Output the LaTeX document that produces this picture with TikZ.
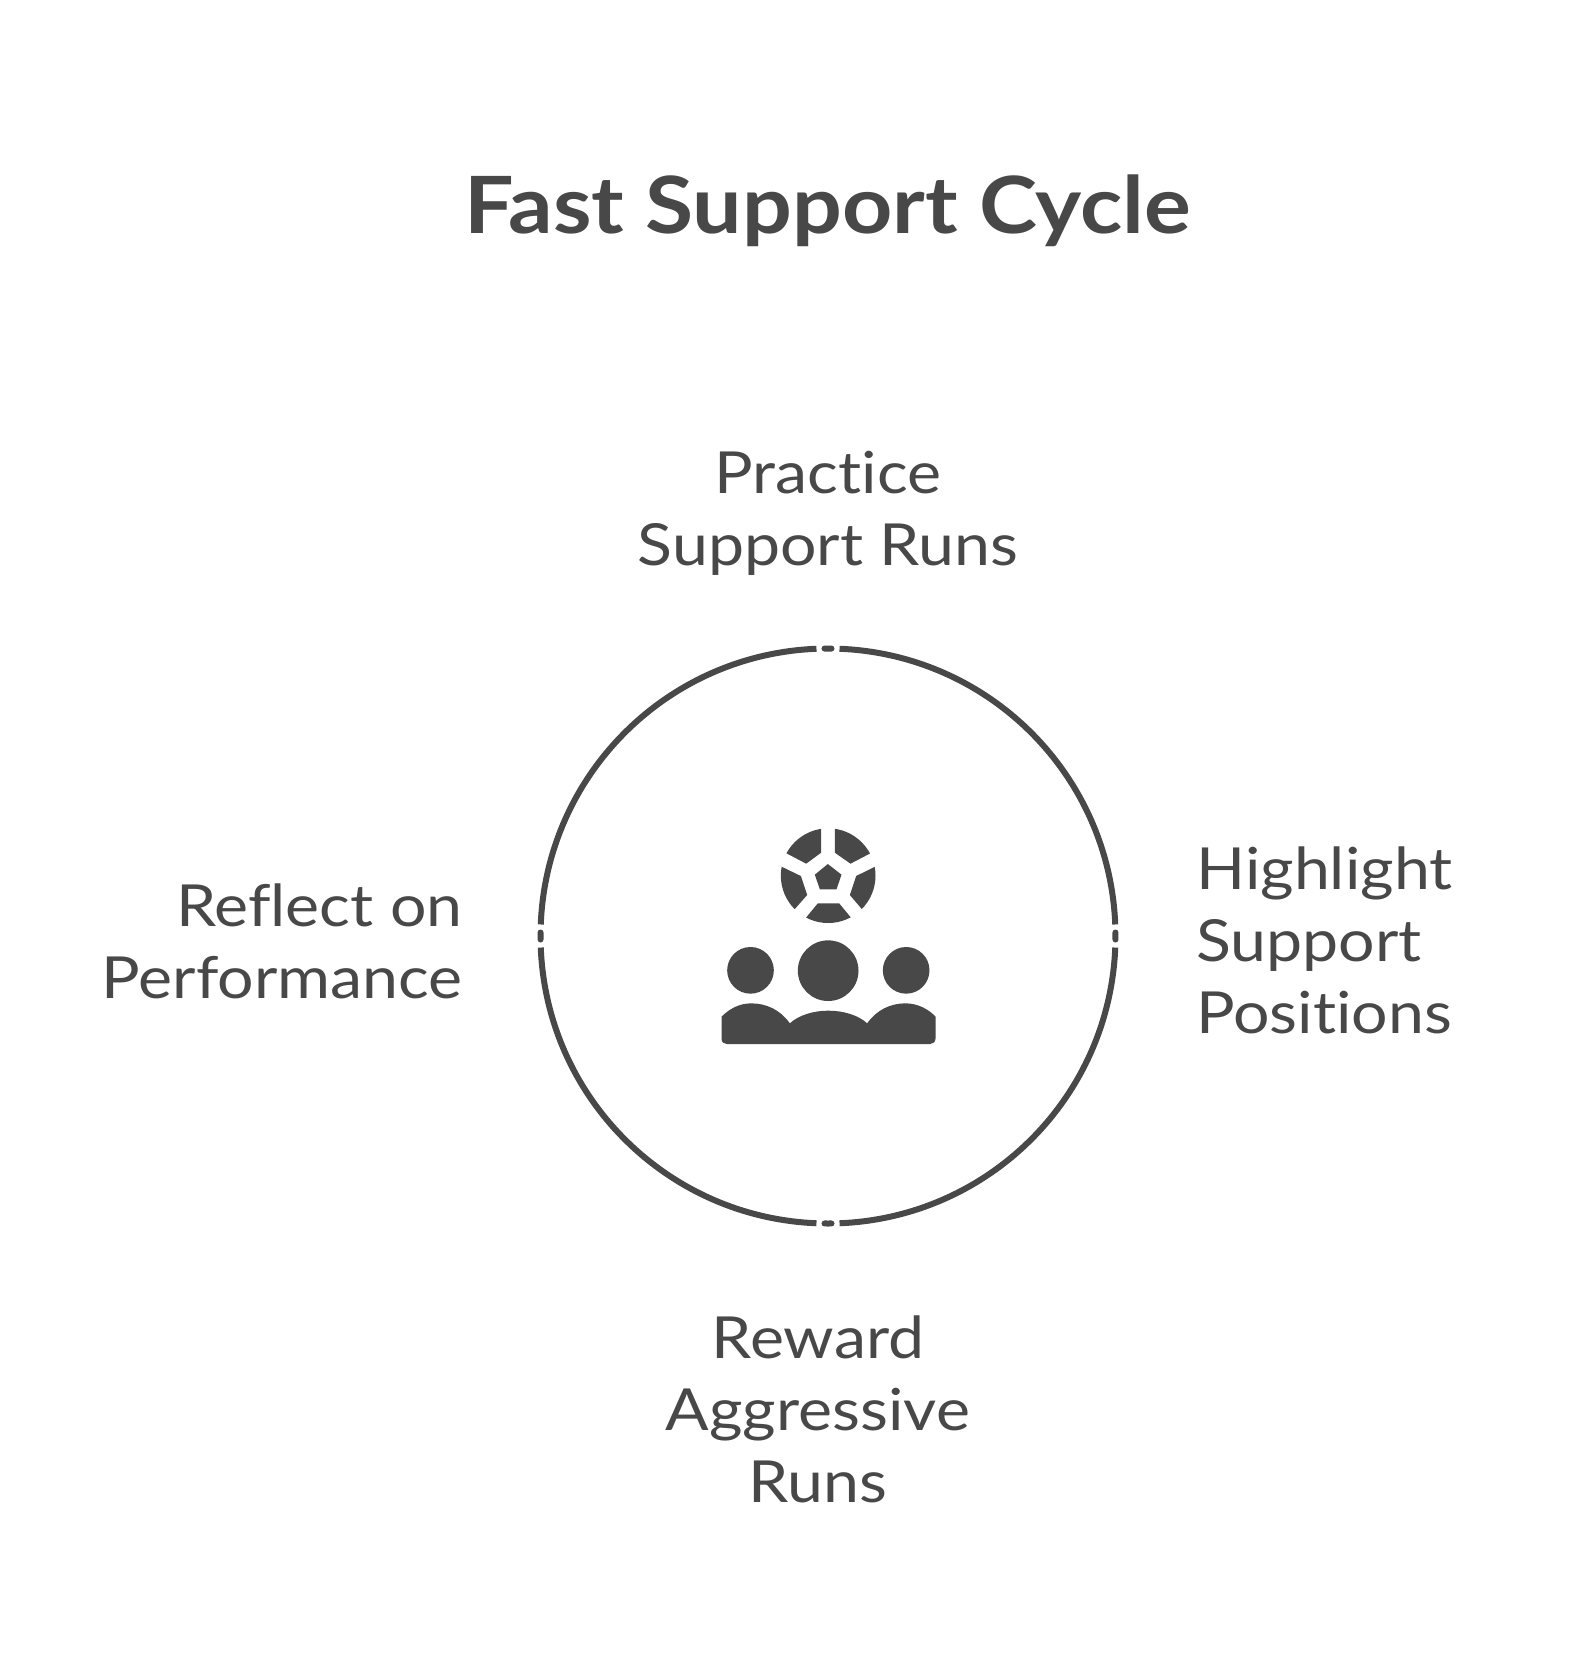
\documentclass[tikz,border=0pt]{standalone}
\usepackage{fontspec}
\usetikzlibrary{calc}
\setmainfont[FakeStretch=1.11,Ligatures=NoCommon]{Lato}
\definecolor{ink}{HTML}{484848}
\tikzset{
  ring/.style={draw=ink,line width=3pt},
  tick/.style={draw=ink,line width=3pt,line cap=round},
  label/.style={text=ink,inner sep=0pt,font=\fontsize{29}{36}\selectfont},
  titletext/.style={text=ink,inner sep=0pt,font=\fontsize{39.5}{48}\bfseries\selectfont},
  zoomed/.style={shift={(690.5,800)},scale=0.33333}
}
\begin{document}
\begin{tikzpicture}[x=0.5pt,y=-0.5pt]
\path[use as bounding box,fill=white] (0,0) rectangle (1584,1656);
\node[titletext] (title) at (828,211) {Fast Support Cycle};
\node[label,align=center] (practice) at (828,513) {Practice\\Support Runs};
\node[label,align=left,anchor=west] (highlight) at (1196,940) {Highlight\\Support\\Positions};
\node[label,align=right,anchor=east] (reflect) at (463,941) {Reflect on\\Performance};
\node[label,align=center] (reward) at (818,1409) {Reward\\Aggressive\\Runs};
% ring with small ticks at the four cardinal points
\foreach \a in {0,90,180,270}{
  \draw[ring] ($(828,936)+(\a+2.3:287.5)$) arc[start angle=\a+2.3,end angle=\a+87.7,radius=287.5];
  \draw[tick] ($(828,936)+(\a-0.7:287.5)$) arc[start angle=\a-0.7,end angle=\a+0.7,radius=287.5];
}
\begin{scope}[zoomed]
  \begin{scope}
    \clip (413,227) circle[radius=142];
    \fill[ink] (392,60) -- (392,158) -- (347,191) -- (250,140) -- (250,60) -- cycle;
    \fill[ink] (433,60) -- (433,158) -- (480,191) -- (578,140) -- (578,60) -- cycle;
    \fill[ink] (331,228) -- (240,184) -- (240,353) -- (290,353) -- (350,285) -- cycle;
    \fill[ink] (497,228) -- (586,184) -- (586,353) -- (536,353) -- (478,285) -- cycle;
    \fill[ink] (382,310) -- (446,310) -- (498,373) -- (330,373) -- cycle;
  \end{scope}
  \fill[ink] (412,192) -- (453,224) -- (438,268) -- (388,268) -- (373,224) -- cycle;
  \fill[ink] (413,512) circle[radius=91];
  \fill[ink] (180,511) circle[radius=70];
  \fill[ink] (647,511) circle[radius=70];
  \fill[ink] (93,650) .. controls (115,628) and (145,610) .. (182,610)
     .. controls (228,610) and (270,630) .. (298,670)
     .. controls (325,645) and (370,632) .. (413,632)
     .. controls (458,632) and (503,645) .. (530,670)
     .. controls (558,630) and (600,610) .. (645,610)
     .. controls (682,610) and (715,628) .. (735,650)
     -- (735,716) .. controls (735,726) and (727,732) .. (719,732)
     -- (109,732) .. controls (100,732) and (93,726) .. (93,716) -- cycle;
\end{scope}
\end{tikzpicture}
\end{document}
